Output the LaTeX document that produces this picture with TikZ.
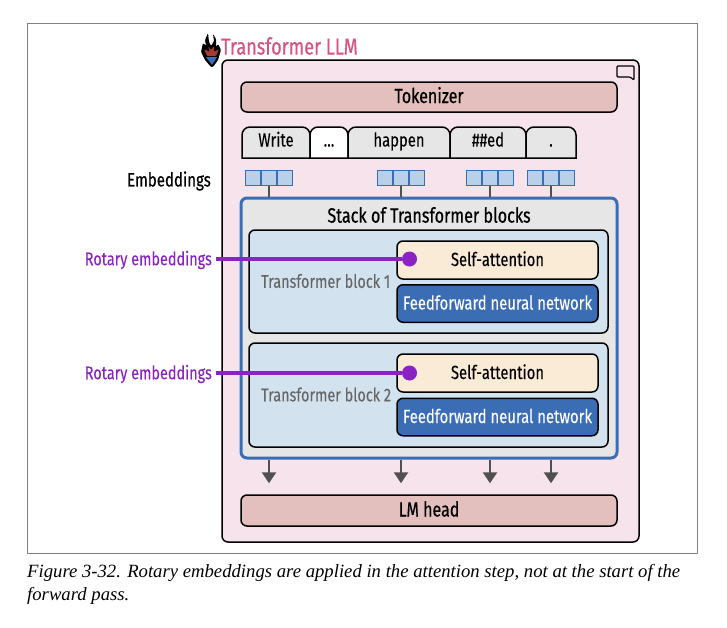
\documentclass[tikz,border=0pt]{standalone}
\usepackage{fontspec}
\usetikzlibrary{arrows.meta}
\setmainfont{Fira Sans}[FakeStretch=0.78,FakeBold=0.15]
\newfontfamily\medfont{Fira Sans}[FakeStretch=0.78,FakeBold=0.5]
\newfontfamily\capfont{Liberation Serif}
\definecolor{llmpink}{HTML}{F7E3EC}
\definecolor{headrose}{HTML}{E3BFBD}
\definecolor{tabgray}{HTML}{E6E6E6}
\definecolor{blueline}{HTML}{3B6DB5}
\definecolor{cellblue}{HTML}{B8D0E8}
\definecolor{blockblue}{HTML}{D3E2EF}
\definecolor{cream}{HTML}{FAEBD7}
\definecolor{rotpurple}{HTML}{8A22C4}
\definecolor{titlepink}{HTML}{D4557F}
\definecolor{arrowgray}{HTML}{505050}
\definecolor{flamered}{HTML}{A83A2E}
\tikzset{
	box/.style={draw=black,line width=1.5pt,rounded corners=6pt,text=black,text height=16pt,text depth=4pt,font=\fontsize{19}{20}\selectfont},
	headbox/.style={box,fill=headrose,font=\medfont\fontsize{20.5}{20}\selectfont},
	cell/.style={draw=blueline,line width=1pt,fill=cellblue,minimum width=15pt,minimum height=15pt,inner sep=0pt},
	rotlabel/.style={text=rotpurple,font=\fontsize{18.5}{20}\selectfont,anchor=east,inner sep=2pt},
	rotline/.style={draw=rotpurple,line width=3.4pt},
	link/.style={draw=arrowgray,line width=2.4pt},
}
\newcommand{\tokentab}[5]{% name, left, right, fill, text
	\draw[line width=1.5pt,fill=#4] (#2,158) [rounded corners=8pt] -- (#2,127) -- (#3,127) [sharp corners] -- (#3,158) -- cycle;
	\node[font=\fontsize{19}{20}\selectfont,text height=13pt,text depth=4pt,inner sep=0pt] (#1) at ({(#2+#3)/2},142) {#5};
}
\begin{document}
\begin{tikzpicture}[x=1pt,y=-1pt]
	\useasboundingbox (0,0) rectangle (727,627);
	\draw[gray,line width=1pt] (27,23) rectangle (697,553);
	% main box
	\node[box,fill=llmpink,minimum width=417pt,minimum height=482pt,inner sep=0pt] (llm) at (430.5,301) {};
	\node[text=titlepink,font=\medfont\fontsize{23.2}{24}\selectfont,anchor=west,inner sep=0pt] (title) at (221,46) {Transformer LLM};
	% flame icon
	\fill[black,rounded corners=1pt] (208,33) -- (205,40) -- (206,46) -- (203,43) -- (201,52) -- (205,60) -- (211,67) -- (213,67) -- (218,60) -- (221,50) -- (218,44) -- (216,47) -- (216,39) -- (213,34) -- (214,41) -- (211,46) -- (209,42) -- cycle;
	\fill[flamered,rounded corners=1pt] (208,46) -- (210,52) -- (204,49) -- (207,56) -- (216,56) -- (219,49) -- (214,52) -- (214,46) -- (211,50) -- cycle;
	\fill[blueline] (206,57) -- (217,57) -- (212,65) -- cycle;
	% speech bubble
	\draw[line width=1.2pt,fill=llmpink,rounded corners=1pt] (617,66) -- (634,66) -- (634,80) -- (630,77) -- (617,77) -- cycle;
	% tokens
	\node[headbox,minimum width=376pt,minimum height=30pt,inner sep=0pt] (tokenizer) at (429,97) {Tokenizer};
	\tokentab{tokwrite}{242}{310}{tabgray}{Write}
	\tokentab{tokdots}{310}{348}{white}{...}
	\tokentab{tokhappen}{348}{450}{tabgray}{happen}
	\tokentab{toked}{450}{526}{tabgray}{\#\#ed}
	\tokentab{tokdot}{526}{576}{tabgray}{.}
	\node[font=\medfont\fontsize{19.3}{20}\selectfont,anchor=east,inner sep=0pt] (emblabel) at (211,181) {Embeddings};
	% stack
	\node[draw=blueline,line width=3pt,rounded corners=6pt,fill=tabgray,minimum width=376pt,minimum height=260pt,inner sep=0pt] (stack) at (429,328) {};
	\node[font=\medfont\fontsize{20.7}{20}\selectfont] (stacktitle) at (429,215) {Stack of Transformer blocks};
	\foreach \n/\ytop/\ybot/\ysa/\yff/\ydot in {1/230/333/260/303.5/259,2/343/447/373/417/373}{
		\node[draw=black,line width=1.5pt,rounded corners=6pt,fill=blockblue,minimum width=359pt,minimum height={\ybot pt-\ytop pt},inner sep=0pt] (block\n) at (428.5,{(\ytop+\ybot)/2}) {};
		\node[box,fill=cream,minimum width=201pt,minimum height=38pt,inner sep=0pt] (self\n) at (497.5,\ysa) {Self-attention};
		\node[box,fill=blueline,text=white,minimum width=201pt,minimum height=37.5pt,inner sep=0pt] (ffn\n) at (497.5,\yff) {Feedforward neural network};
		\node[text=black!60,font=\fontsize{18.5}{20}\selectfont,anchor=west,inner sep=0pt] (blocklabel\n) at (261,{(\ytop+\ybot)/2-0.5}) {Transformer block \n};
		\node[rotlabel] (rotlabel\n) at (214,\ydot+1) {Rotary embeddings};
		\node[circle,fill=rotpurple,minimum size=15pt,inner sep=0pt] (rotdot\n) at (409.5,\ydot) {};
		\draw[rotline] (rotlabel\n.east |- rotdot\n) ++(2pt,0) -- (rotdot\n);
	}
	% embeddings and arrows
	\foreach \n/\x in {a/269,b/401,c/490,d/551}{
		\node[cell] (cell\n) at (\x,178) {};
		\node[cell,anchor=east] at (cell\n.west) {};
		\node[cell,anchor=west] at (cell\n.east) {};
		\draw[link] (cell\n.south) -- (cell\n.south |- stack.north);
	}
	% LM head
	\node[headbox,minimum width=376pt,minimum height=31pt,inner sep=0pt] (head) at (429,510.5) {LM head};
	\foreach \n in {a,b,c,d}{
		\draw[link,-{Triangle[length=11pt,width=14pt]},shorten >=11pt] (cell\n.south |- stack.south) -- (cell\n.south |- head.north);
	}
	% caption
	\node[anchor=north west,inner sep=0pt,align=left,font=\capfont\itshape\fontsize{18.7}{23.5}\selectfont] (caption) at (27,564) {Figure 3-32. Rotary embeddings are applied in the attention step, not at the start of the\\forward pass.};
\end{tikzpicture}
\end{document}
